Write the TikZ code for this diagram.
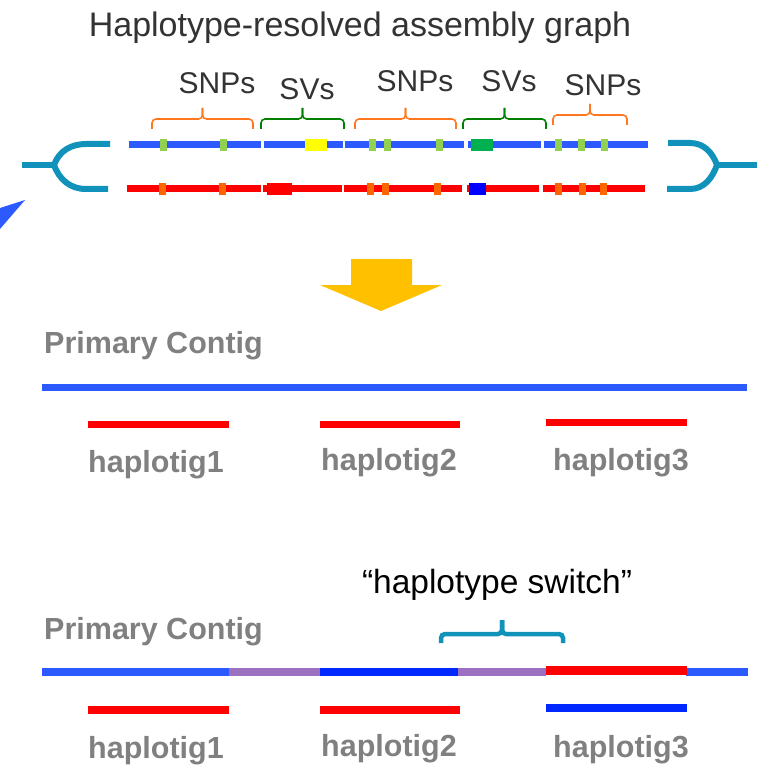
\documentclass[tikz,border=0pt]{standalone}
\usepackage{fontspec}
\setmainfont{Liberation Sans}
\definecolor{hapblue}{RGB}{45, 90, 255}
\definecolor{hapred}{RGB}{255, 0, 0}
\definecolor{deepblue}{RGB}{0, 40, 255}
\definecolor{snpgreen}{RGB}{146, 208, 80}
\definecolor{snporange}{RGB}{255, 102, 0}
\definecolor{svgreen}{RGB}{0, 176, 80}
\definecolor{svblue}{RGB}{0, 0, 255}
\definecolor{svyellow}{RGB}{255, 255, 0}
\definecolor{braceorange}{RGB}{255, 120, 30}
\definecolor{bracegreen}{RGB}{0, 128, 0}
\definecolor{linkteal}{RGB}{16, 146, 186}
\definecolor{arrowgold}{RGB}{255, 192, 0}
\definecolor{labelgray}{RGB}{128, 128, 128}
\definecolor{titlegray}{RGB}{51, 51, 51}
\definecolor{switchpurple}{RGB}{155, 112, 192}
\usepackage{tikz}
\usetikzlibrary{positioning, calc}

% brace over a stretch: x1, x2, y, colour
\newcommand{\hapbrace}[4]{%
  \draw[#4, line width=1.6, rounded corners=4] (#1,#3+10) -- (#1,#3) -- ({(#1+#2)/2},#3) -- ({(#1+#2)/2},#3-11);
  \draw[#4, line width=1.6, rounded corners=4] ({(#1+#2)/2},#3-11) -- ({(#1+#2)/2},#3) -- (#2,#3) -- (#2,#3+10);}

\begin{document}
\begin{tikzpicture}[x=1pt, y=-1pt,
  toptext/.style={text=titlegray, inner sep=0pt, anchor=base, font=\fontsize{30}{34}\selectfont},
  graylabel/.style={text=labelgray, inner sep=0pt, anchor=base, font=\fontsize{30.5}{34}\selectfont\bfseries},
  strand/.style={line width=7},
  contig/.style={line width=7},
  link/.style={linkteal, line width=6}]
  \useasboundingbox (0,0) rectangle (764,767);

  % Title
  \node[toptext, font=\fontsize{34}{38}\selectfont] (title) at (360, 37) {Haplotype-resolved assembly graph};

  % Variant labels and braces
  \node[toptext] (snpsA) at (217, 94) {SNPs};
  \node[toptext] (svsA) at (307, 100) {SVs};
  \node[toptext] (snpsB) at (415, 92) {SNPs};
  \node[toptext] (svsB) at (509, 92) {SVs};
  \node[toptext] (snpsC) at (603, 96) {SNPs};
  \hapbrace{152}{253}{119}{braceorange}
  \hapbrace{261}{344}{119}{bracegreen}
  \hapbrace{355}{456}{119}{braceorange}
  \hapbrace{463}{546}{119}{bracegreen}
  \hapbrace{553}{627}{115}{braceorange}

  % Two haplotype strands
  \foreach \a/\b in {129/261, 264/343, 345/464, 468/541, 544/648}
    \draw[strand, hapblue] (\a,145) -- (\b,145);
  \foreach \a/\b in {127/261, 263/342, 344/462, 467/539, 543/645}
    \draw[strand, hapred] (\a,189) -- (\b,189);
  \foreach \x in {163, 223, 372, 387, 439, 558, 581, 604}
    \fill[snpgreen] (\x-3.5,139) rectangle (\x+3.5,151);
  \foreach \x in {162, 222, 370, 385, 437, 558, 582, 603}
    \fill[snporange] (\x-3.5,183) rectangle (\x+3.5,195);
  \fill[svyellow] (305,139) rectangle (327,151);
  \fill[hapred] (267,183) rectangle (292,195);
  \fill[svgreen] (471,139) rectangle (493,151);
  \fill[svblue] (469,183) rectangle (486,195);

  % Bubble ends
  \draw[link] (22,165) -- (54,165);
  \draw[link] (54,165) to[out=70, in=180] (86,144) -- (110,144);
  \draw[link] (54,165) to[out=-70, in=180] (86,189) -- (108,189);
  \draw[link] (757,165) -- (717,165);
  \draw[link] (717,165) to[out=110, in=0] (690,143) -- (668,143);
  \draw[link] (717,165) to[out=-110, in=0] (690,189) -- (667,189);
  \fill[hapblue] (25,200) -- (0,208) -- (0,229) -- cycle;

  % Down arrow
  \fill[arrowgold] (351,259) -- (412,259) -- (412,285) -- (442,285) -- (381,311) -- (320,285) -- (351,285) -- cycle;

  % Primary contig with haplotigs
  \node[graylabel, anchor=base west] (primA) at (44, 353) {Primary Contig};
  \draw[contig, hapblue] (42,387) -- (747,387);
  \draw[contig, hapred] (88,424) -- (229,424);
  \draw[contig, hapred] (320,424) -- (460,424);
  \draw[contig, hapred] (546,422) -- (687,422);
  \node[graylabel] (hapA) at (156, 472) {haplotig1};
  \node[graylabel] (hapB) at (389, 470) {haplotig2};
  \node[graylabel] (hapC) at (621, 470) {haplotig3};

  % Haplotype switch
  \node[inner sep=0pt, anchor=base, font=\fontsize{33.5}{38}\selectfont] (switch) at (497, 593) {“haplotype switch”};
  \draw[linkteal, line width=4.5, rounded corners=4] (441,643) -- (441,634) -- (502,634) -- (502,620);
  \draw[linkteal, line width=4.5, rounded corners=4] (502,620) -- (502,634) -- (563,634) -- (563,643);
  \node[graylabel, anchor=base west] (primB) at (44, 639) {Primary Contig};
  \draw[line width=8, hapblue] (42,672) -- (229,672);
  \draw[line width=8, switchpurple] (229,672) -- (320,672);
  \draw[line width=8, deepblue] (320,672) -- (458,672);
  \draw[line width=8, switchpurple] (458,672) -- (546,672);
  \draw[line width=8, hapblue] (686,672) -- (748,672);
  \draw[line width=9, hapred] (546,670.5) -- (687,670.5);
  \draw[line width=8, hapred] (88,710) -- (229,710);
  \draw[line width=8, hapred] (320,710) -- (460,710);
  \draw[line width=8, deepblue] (546,708) -- (687,708);
  \node[graylabel] (swA) at (156, 758) {haplotig1};
  \node[graylabel] (swB) at (389, 756) {haplotig2};
  \node[graylabel] (swC) at (621, 757) {haplotig3};
\end{tikzpicture}
\end{document}
